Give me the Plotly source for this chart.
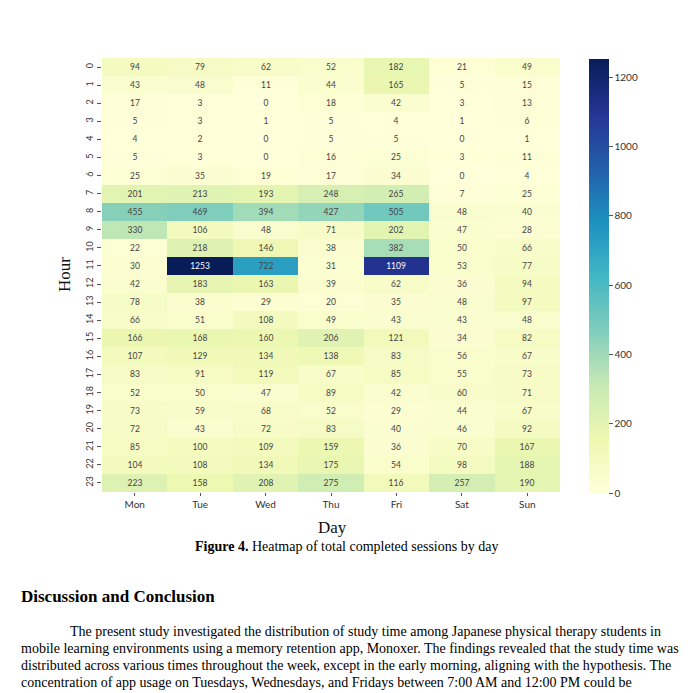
import plotly.graph_objects as go
import plotly.colors as pc

days = ["Mon", "Tue", "Wed", "Thu", "Fri", "Sat", "Sun"]
hours = list(range(24))
sessions = [
    [94, 79, 62, 52, 182, 21, 49],
    [43, 48, 11, 44, 165, 5, 15],
    [17, 3, 0, 18, 42, 3, 13],
    [5, 3, 1, 5, 4, 1, 6],
    [4, 2, 0, 5, 5, 0, 1],
    [5, 3, 0, 16, 25, 3, 11],
    [25, 35, 19, 17, 34, 0, 4],
    [201, 213, 193, 248, 265, 7, 25],
    [455, 469, 394, 427, 505, 48, 40],
    [330, 106, 48, 71, 202, 47, 28],
    [22, 218, 146, 38, 382, 50, 66],
    [30, 1253, 722, 31, 1109, 53, 77],
    [42, 183, 163, 39, 62, 36, 94],
    [78, 38, 29, 20, 35, 48, 97],
    [66, 51, 108, 49, 43, 43, 48],
    [166, 168, 160, 206, 121, 34, 82],
    [107, 129, 134, 138, 83, 56, 67],
    [83, 91, 119, 67, 85, 55, 73],
    [52, 50, 47, 89, 42, 60, 71],
    [73, 59, 68, 52, 29, 44, 67],
    [72, 43, 72, 83, 40, 46, 92],
    [85, 100, 109, 159, 36, 70, 167],
    [104, 108, 134, 175, 54, 98, 188],
    [223, 158, 208, 275, 116, 257, 190],
]
cbar_ticks = [0, 200, 400, 600, 800, 1000, 1200]

caption = "<b>Figure 4.</b> Heatmap of total completed sessions by day"
heading = "Discussion and Conclusion"
paragraph = [
    "The present study investigated the distribution of study time among Japanese physical therapy students in",
    "mobile learning environments using a memory retention app, Monoxer. The findings revealed that the study time was",
    "distributed across various times throughout the week, except in the early morning, aligning with the hypothesis. The",
    "concentration of app usage on Tuesdays, Wednesdays, and Fridays between 7:00 AM and 12:00 PM could be",
    "attributed to two main factors. First, the curriculum incorporated dedicated time for students to engage with Monoxer",
]

W = H = 693
OFF = 8  # page body margin


def px(x):
    return (x - OFF) / W


def py(y):
    return 1 - (y - OFF) / H


SANS = "Lato, Open Sans, sans-serif"
SERIF = "Liberation Serif, Times New Roman, serif"

fig = go.Figure(go.Heatmap(
    z=sessions, x=days, y=hours,
    colorscale=pc.sequential.YlGnBu, zmin=0, zmax=1253,
    texttemplate="%{z}", textfont=dict(family=SANS, size=8.5),
    xgap=0, ygap=0,
    colorbar=dict(
        x=px(589), xanchor="left", y=py(493), yanchor="bottom",
        lenmode="pixels", len=434, thickness=20, xpad=0, ypad=0,
        tickvals=cbar_ticks, ticks="outside", ticklen=4, tickcolor="#555",
        tickfont=dict(family=SANS, size=10, color="#333"),
        outlinewidth=0,
    ),
))

fig.update_xaxes(domain=[px(102), px(560)], showgrid=False, zeroline=False,
                 ticks="outside", ticklen=3, tickcolor="#555",
                 tickfont=dict(family=SANS, size=10, color="#333"))
fig.update_yaxes(domain=[py(492), py(58)], autorange="reversed",
                 showgrid=False, zeroline=False, tickmode="array", tickvals=hours,
                 ticktext=[str(h) for h in hours], tickangle=-90,
                 ticks="outside", ticklen=4, tickcolor="#555",
                 tickfont=dict(family=SANS, size=9, color="#333"))

ann = [
    dict(text="Hour", x=px(65), y=py(275), textangle=-90,
         font=dict(family=SERIF, size=17, color="#111")),
    dict(text="Day", x=px(332), y=py(527),
         font=dict(family=SERIF, size=17, color="#111")),
    dict(text=caption, x=px(346), y=py(546),
         font=dict(family=SERIF, size=14, color="#000")),
    dict(text="<b>" + heading + "</b>", x=px(19), y=py(596), xanchor="left",
         font=dict(family=SERIF, size=17, color="#000")),
]
line_y = [631, 648, 665, 682, 699]
for i, (line, yy) in enumerate(zip(paragraph, line_y)):
    ann.append(dict(text=line, x=px(68 if i == 0 else 19), y=py(yy),
                    xanchor="left", font=dict(family=SERIF, size=14, color="#000")))
for a in ann:
    a.setdefault("xanchor", "center")
    a.update(xref="paper", yref="paper", yanchor="middle", showarrow=False)

fig.update_layout(width=W, height=H, margin=dict(l=0, r=0, t=0, b=0),
                  paper_bgcolor="white", plot_bgcolor="white", annotations=ann)
fig.write_html("out.html")
